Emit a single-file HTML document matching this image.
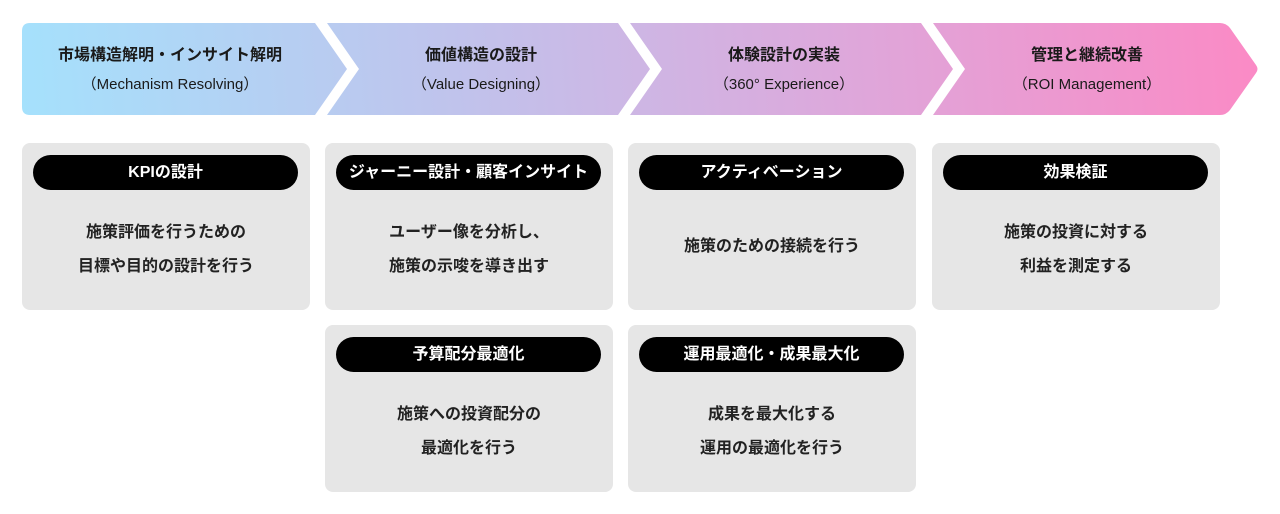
<!DOCTYPE html>
<html><head><meta charset="utf-8"><style>
body{margin:0;width:1280px;height:514px;background:#fff;font-family:"Liberation Sans","Noto Sans CJK JP",sans-serif;position:relative;overflow:hidden;color:#1a1a1a}
svg{position:absolute;left:0;top:0}
.h{position:absolute;top:23px;height:92px;width:300px;text-align:center}
.h .t{font-size:16px;font-weight:bold;margin-top:23px;line-height:20px}
.h .s{font-size:15px;margin-top:10px;line-height:18px}
.card{position:absolute;width:288px;height:167px;background:#e6e6e6;border-radius:8px}
.pill{position:absolute;left:11px;top:12px;width:265px;height:35px;background:#000;border-radius:18px;color:#fff;font-weight:bold;font-size:16px;line-height:35px;text-align:center}
.b{position:absolute;left:0;right:0;top:73px;text-align:center;font-size:16px;font-weight:bold;line-height:34px;color:#222}
</style></head><body>
<svg width="1280" height="130">
<defs><linearGradient id="g" x1="22" y1="115" x2="1258" y2="23" gradientUnits="userSpaceOnUse">
<stop offset="0" stop-color="#a5e1fc"/><stop offset="0.35" stop-color="#c0c3ec"/><stop offset="0.65" stop-color="#dca9dc"/><stop offset="1" stop-color="#fb8ac5"/></linearGradient></defs>
<path d="M30 23 H1220 Q1226 23 1230 28 L1256 65 Q1259 69 1256 73 L1230 110 Q1226 115 1220 115 H30 Q22 115 22 107 V31 Q22 23 30 23Z" fill="url(#g)"/>
<g fill="#fff">
<polygon points="315,23 327,23 359,69 327,115 315,115 347,69"/>
<polygon points="618,23 630,23 662,69 630,115 618,115 650,69"/>
<polygon points="921,23 933,23 965,69 933,115 921,115 953,69"/>
</g></svg>
<div class="h" style="left:20px"><div class="t">市場構造解明・インサイト解明</div><div class="s">（Mechanism Resolving）</div></div>
<div class="h" style="left:331px"><div class="t">価値構造の設計</div><div class="s">（Value Designing）</div></div>
<div class="h" style="left:634px"><div class="t">体験設計の実装</div><div class="s">（360° Experience）</div></div>
<div class="h" style="left:937px"><div class="t">管理と継続改善</div><div class="s">（ROI Management）</div></div>

<div class="card" style="left:22px;top:143px"><div class="pill">KPIの設計</div><div class="b">施策評価を行うための<br>目標や目的の設計を行う</div></div>
<div class="card" style="left:325px;top:143px"><div class="pill">ジャーニー設計・顧客インサイト</div><div class="b">ユーザー像を分析し、<br>施策の示唆を導き出す</div></div>
<div class="card" style="left:628px;top:143px"><div class="pill">アクティベーション</div><div class="b" style="top:87px">施策のための接続を行う</div></div>
<div class="card" style="left:932px;top:143px"><div class="pill">効果検証</div><div class="b">施策の投資に対する<br>利益を測定する</div></div>
<div class="card" style="left:325px;top:325px"><div class="pill">予算配分最適化</div><div class="b">施策への投資配分の<br>最適化を行う</div></div>
<div class="card" style="left:628px;top:325px"><div class="pill">運用最適化・成果最大化</div><div class="b">成果を最大化する<br>運用の最適化を行う</div></div>
</body></html>
